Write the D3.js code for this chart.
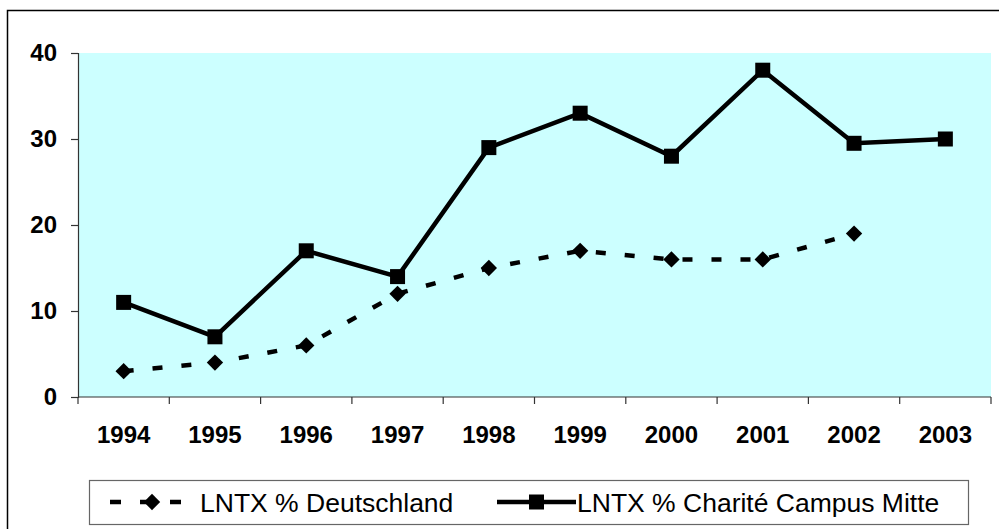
<!DOCTYPE html>
<html>
<head>
<meta charset="utf-8">
<script src="https://cdn.jsdelivr.net/npm/d3@7"></script>
<style>
  body { margin: 0; background: #fff; }
  svg { display: block; font-family: "Liberation Sans", Arial, sans-serif; }
</style>
</head>
<body>
<svg width="999" height="529"></svg>
<script>
// data
const years = ['1994', '1995', '1996', '1997', '1998', '1999', '2000', '2001', '2002', '2003'];
const deutschland = [3, 4, 6, 12, 15, 17, 16, 16, 19, null];
const charite = [11, 7, 17, 14, 29, 33, 28, 38, 29.5, 30];
const yTicks = [0, 10, 20, 30, 40];
const seriesNames = ['LNTX % Deutschland', 'LNTX % Charité Campus Mitte'];

const svg = d3.select('svg');

// outer frame
svg.append('rect')
  .attr('x', 7.5).attr('y', 10.5)
  .attr('width', 1100).attr('height', 600)
  .attr('fill', 'none').attr('stroke', '#000').attr('stroke-width', 1.5);

const plotL = 78, plotR = 991, plotT = 53, plotB = 397;

let x = d3.scaleBand().domain(years).range([plotL, plotR]);
let y = d3.scaleLinear().domain([0, 40]).range([plotB, plotT]);

// plot background
svg.append('rect')
  .attr('x', plotL).attr('y', plotT)
  .attr('width', plotR - plotL).attr('height', plotB - plotT)
  .attr('fill', '#ccffff');

// y axis
let yAxis = svg.append('g')
  .attr('transform', `translate(${plotL},0)`)
  .call(d3.axisLeft(y).tickValues(yTicks).tickSize(7).tickPadding(14));
yAxis.select('.domain').attr('stroke', '#333').attr('stroke-width', 1.2);
yAxis.selectAll('.tick line').attr('stroke', '#333').attr('stroke-width', 1.2);
yAxis.selectAll('text')
  .attr('font-size', 24).attr('font-weight', 'bold')
  .attr('font-family', '"Liberation Sans", Arial, sans-serif').attr('fill', '#000');

// x axis: ticks sit between categories
let xAxis = svg.append('g').attr('transform', `translate(0,${plotB})`);
xAxis.append('line')
  .attr('x1', plotL).attr('x2', plotR)
  .attr('stroke', '#333').attr('stroke-width', 1.2);
xAxis.selectAll('.tk')
  .data(years)
  .join('line')
  .attr('x1', d => x(d) + x.bandwidth()).attr('x2', d => x(d) + x.bandwidth())
  .attr('y1', 0).attr('y2', 7)
  .attr('stroke', '#333').attr('stroke-width', 1.2);
xAxis.append('line')
  .attr('x1', plotL).attr('x2', plotL).attr('y1', 0).attr('y2', 7)
  .attr('stroke', '#333').attr('stroke-width', 1.2);
xAxis.selectAll('text')
  .data(years)
  .join('text')
  .attr('x', d => x(d) + x.bandwidth() / 2)
  .attr('y', 46)
  .attr('text-anchor', 'middle')
  .attr('font-size', 24).attr('font-weight', 'bold')
  .text(d => d);

const cx = (d, i) => x(years[i]) + x.bandwidth() / 2;

// Deutschland dashed line with diamonds
let lineD = d3.line()
  .defined(d => d != null)
  .x((d, i) => cx(d, i))
  .y(d => y(d));
svg.append('path')
  .attr('d', lineD(deutschland))
  .attr('fill', 'none').attr('stroke', '#000')
  .attr('stroke-width', 4.5).attr('stroke-dasharray', '10,19');

let diamond = d3.symbol().type(d3.symbolDiamond2).size(170);
svg.selectAll('.dia')
  .data(deutschland.map((v, i) => [v, i]).filter(d => d[0] != null))
  .join('path')
  .attr('d', diamond)
  .attr('transform', d => `translate(${cx(d[0], d[1])},${y(d[0])})`)
  .attr('fill', '#000');

// Charité solid line with squares
svg.append('path')
  .attr('d', lineD(charite))
  .attr('fill', 'none').attr('stroke', '#000')
  .attr('stroke-width', 4.5);

svg.selectAll('.sq')
  .data(charite)
  .join('rect')
  .attr('x', (d, i) => cx(d, i) - 7.5)
  .attr('y', d => y(d) - 7.5)
  .attr('width', 15).attr('height', 15)
  .attr('fill', '#000');

// legend
let legend = svg.append('g');
legend.append('rect')
  .attr('x', 89.5).attr('y', 480.5)
  .attr('width', 879).attr('height', 44)
  .attr('fill', '#fff').attr('stroke', '#666').attr('stroke-width', 1.2);

const ly = 502;
legend.append('line')
  .attr('x1', 110).attr('x2', 194).attr('y1', ly).attr('y2', ly)
  .attr('stroke', '#000').attr('stroke-width', 4.5).attr('stroke-dasharray', '11,19');
legend.append('path')
  .attr('d', diamond)
  .attr('transform', `translate(152,${ly})`);
legend.append('text')
  .attr('x', 200).attr('y', ly + 10)
  .attr('font-size', 26.5)
  .text(seriesNames[0]);

legend.append('line')
  .attr('x1', 497).attr('x2', 576).attr('y1', ly).attr('y2', ly)
  .attr('stroke', '#000').attr('stroke-width', 4.5);
legend.append('rect')
  .attr('x', 529).attr('y', ly - 7.5).attr('width', 15).attr('height', 15);
legend.append('text')
  .attr('x', 577).attr('y', ly + 10)
  .attr('font-size', 26.5)
  .text(seriesNames[1]);
</script>
</body>
</html>
